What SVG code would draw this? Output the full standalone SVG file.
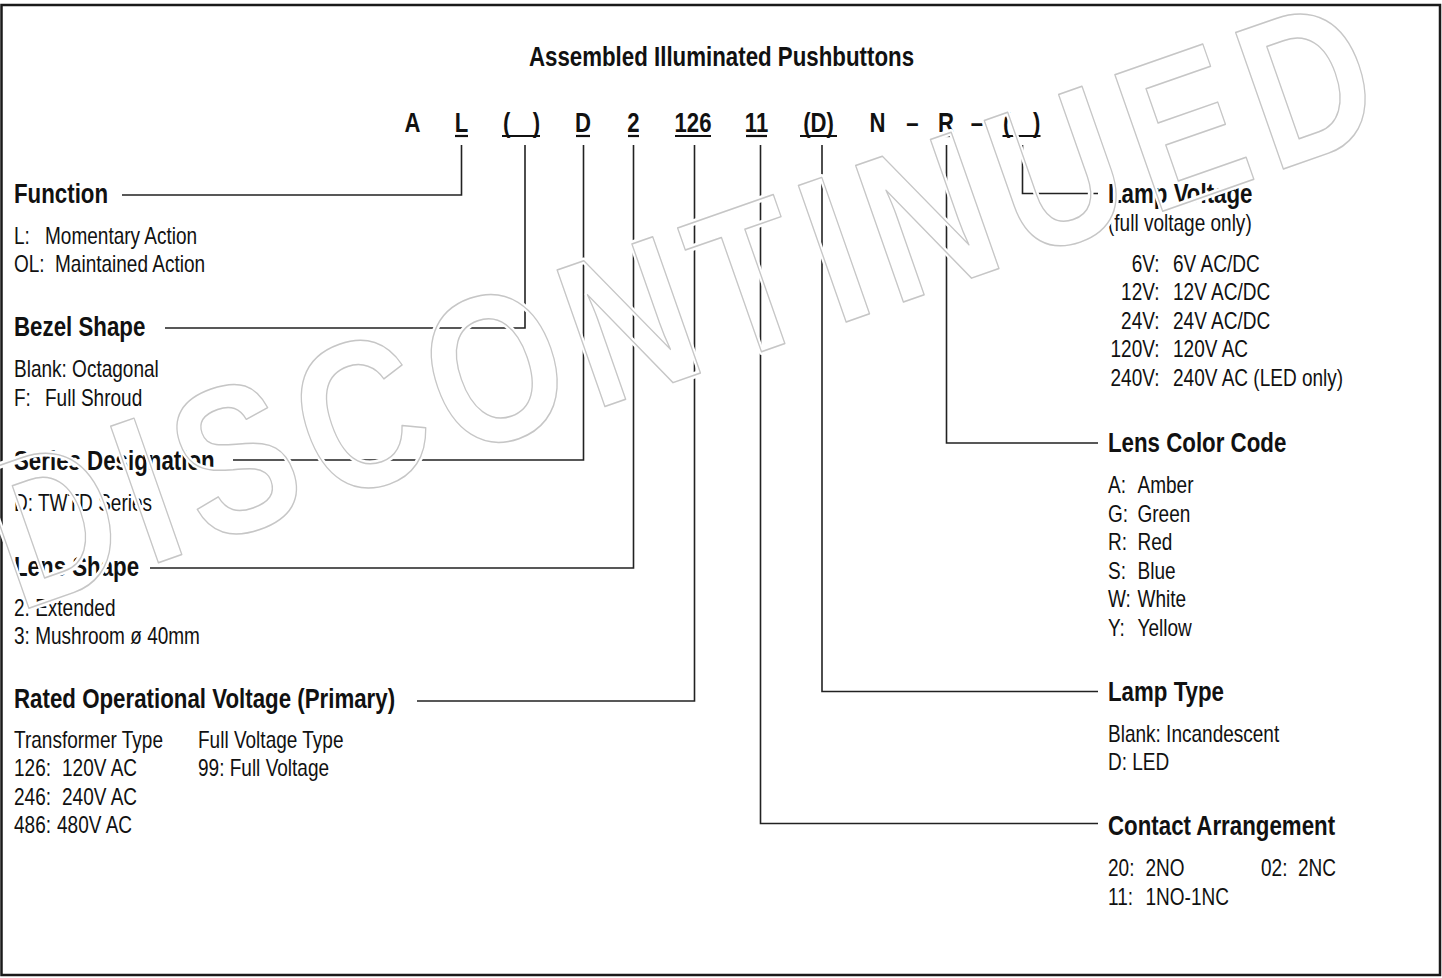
<svg xmlns="http://www.w3.org/2000/svg" width="1442" height="978" viewBox="0 0 1442 978">
<style>
.t{font-family:'Liberation Sans',Arial,sans-serif;fill:#111}
.b{font-weight:bold;font-size:27.2px}
.r{font-size:23.2px}
.c{font-weight:bold;font-size:27px}
.ln{stroke:#222;stroke-width:1.6;fill:none}
.ul{stroke:#111;stroke-width:2.2}
.wmh{font-family:'Liberation Sans',Arial,sans-serif;font-weight:bold;fill:none;stroke:#fff;stroke-width:6;stroke-linejoin:round}
.wm{font-family:'Liberation Sans',Arial,sans-serif;font-weight:bold;fill:none;stroke:#c6c6c6;stroke-width:1.4;stroke-linejoin:round}
</style>
<rect x="0" y="0" width="1442" height="978" fill="#fff"/>
<rect x="1.5" y="5" width="1438.5" height="970" fill="none" stroke="#1a1a1a" stroke-width="2.5"/>

<g id="underlines" class="ul">
<line x1="455" y1="136" x2="468" y2="136"/>
<line x1="502" y1="136" x2="540" y2="136"/>
<line x1="576" y1="136" x2="590" y2="136"/>
<line x1="628" y1="136" x2="639" y2="136"/>
<line x1="675" y1="136" x2="711" y2="136"/>
<line x1="746" y1="136" x2="767" y2="136"/>
<line x1="800" y1="136" x2="837" y2="136"/>
<line x1="939" y1="136" x2="953" y2="136"/>
<line x1="1002.5" y1="136" x2="1040.5" y2="136"/>
</g>

<g id="connectors" class="ln">
<path d="M461.5,145 V195 H122"/>
<path d="M525,145 V328 H165"/>
<path d="M583.5,145 V460 H233"/>
<path d="M633.5,145 V568 H150"/>
<path d="M694.5,145 V701 H417"/>
<path d="M760.5,145 V823.5 H1098"/>
<path d="M822,145 V691.5 H1098"/>
<path d="M946.5,145 V443 H1098"/>
<path d="M1022.5,145 V193.5 H1098"/>
</g>

<g transform="scale(0.82,1)">
<text id="title" class="t b" x="879.88" y="66.5" text-anchor="middle">Assembled Illuminated Pushbuttons</text>

<g id="code" class="t c">
<text x="503.05" y="132.5" text-anchor="middle">A</text>
<text x="562.8" y="132.5" text-anchor="middle">L</text>
<text x="613.41" y="132.5">(<tspan x="658.54" text-anchor="end">)</tspan></text>
<text x="710.98" y="132.5" text-anchor="middle">D</text>
<text x="772.56" y="132.5" text-anchor="middle">2</text>
<text x="845.12" y="132.5" text-anchor="middle">126</text>
<text x="922.56" y="132.5" text-anchor="middle">11</text>
<text x="998.17" y="132.5" text-anchor="middle">(D)</text>
<text x="1070.12" y="132.5" text-anchor="middle">N</text>
<text x="1112.8" y="132.5" text-anchor="middle">–</text>
<text x="1153.66" y="132.5" text-anchor="middle">R</text>
<text x="1191.46" y="132.5" text-anchor="middle">–</text>
<text x="1223.17" y="132.5">(<tspan x="1268.9" text-anchor="end">)</tspan></text>
</g>

<g id="function" class="t">
<text class="b" x="17.07" y="203">Function</text>
<text class="r" x="17.07" y="244">L:<tspan x="54.88">Momentary Action</tspan></text>
<text class="r" x="17.07" y="272.5">OL:<tspan x="67.07">Maintained Action</tspan></text>
</g>
<g id="bezel" class="t">
<text class="b" x="17.07" y="336.5">Bezel Shape</text>
<text class="r" x="17.07" y="377.5">Blank: Octagonal</text>
<text class="r" x="17.07" y="406">F:<tspan x="54.88">Full Shroud</tspan></text>
</g>
<g id="series" class="t">
<text class="b" x="17.07" y="470">Series Designation</text>
<text class="r" x="17.07" y="511">D: TWTD Series</text>
</g>
<g id="lens-shape" class="t">
<text class="b" x="17.07" y="576">Lens Shape</text>
<text class="r" x="17.07" y="616">2: Extended</text>
<text class="r" x="17.07" y="644.5">3: Mushroom ø 40mm</text>
</g>
<g id="voltage" class="t">
<text class="b" x="17.07" y="708">Rated Operational Voltage (Primary)</text>
<text class="r" x="17.07" y="748">Transformer Type</text>
<text class="r" x="17.07" y="776.5">126:<tspan x="75.61">120V AC</tspan></text>
<text class="r" x="17.07" y="805">246:<tspan x="75.61">240V AC</tspan></text>
<text class="r" x="17.07" y="833.5">486:<tspan x="69.51">480V AC</tspan></text>
<text class="r" x="241.46" y="748">Full Voltage Type</text>
<text class="r" x="241.46" y="776.5">99: Full Voltage</text>
</g>

<g id="lamp-voltage" class="t">
<text class="b" x="1351.22" y="203.5">Lamp Voltage</text>
<text class="r" x="1351.22" y="231.5">(full voltage only)</text>
<text class="r" x="1414.02" y="272" text-anchor="end">6V:<tspan x="1430.49" text-anchor="start">6V AC/DC</tspan></text>
<text class="r" x="1414.02" y="300.5" text-anchor="end">12V:<tspan x="1430.49" text-anchor="start">12V AC/DC</tspan></text>
<text class="r" x="1414.02" y="329" text-anchor="end">24V:<tspan x="1430.49" text-anchor="start">24V AC/DC</tspan></text>
<text class="r" x="1414.02" y="357.5" text-anchor="end">120V:<tspan x="1430.49" text-anchor="start">120V AC</tspan></text>
<text class="r" x="1414.02" y="386" text-anchor="end">240V:<tspan x="1430.49" text-anchor="start">240V AC (LED only)</tspan></text>
</g>
<g id="lens-color" class="t">
<text class="b" x="1351.22" y="452">Lens Color Code</text>
<text class="r" x="1351.22" y="493.5">A:<tspan x="1387.2">Amber</tspan></text>
<text class="r" x="1351.22" y="522">G:<tspan x="1387.2">Green</tspan></text>
<text class="r" x="1351.22" y="550.5">R:<tspan x="1387.2">Red</tspan></text>
<text class="r" x="1351.22" y="579">S:<tspan x="1387.2">Blue</tspan></text>
<text class="r" x="1351.22" y="607.5">W:<tspan x="1387.2">White</tspan></text>
<text class="r" x="1351.22" y="636">Y:<tspan x="1387.2">Yellow</tspan></text>
</g>
<g id="lamp-type" class="t">
<text class="b" x="1351.22" y="701.5">Lamp Type</text>
<text class="r" x="1351.22" y="742">Blank: Incandescent</text>
<text class="r" x="1351.22" y="770.5">D: LED</text>
</g>
<g id="contact" class="t">
<text class="b" x="1351.22" y="835">Contact Arrangement</text>
<text class="r" x="1351.22" y="876.5">20:<tspan x="1396.95">2NO</tspan><tspan x="1537.8">02:</tspan><tspan x="1582.93">2NC</tspan></text>
<text class="r" x="1351.22" y="905">11:<tspan x="1396.95">1NO-1NC</tspan></text>
</g>
</g>

<g id="watermark" transform="translate(18,612) rotate(-19.3) scale(0.82,1)">
<text class="wmh" x="0" y="0" font-size="210" letter-spacing="15.85" vector-effect="non-scaling-stroke">DISCONTINUED</text>
<text class="wm" x="0" y="0" font-size="210" letter-spacing="15.85" vector-effect="non-scaling-stroke">DISCONTINUED</text>
</g>
</svg>
